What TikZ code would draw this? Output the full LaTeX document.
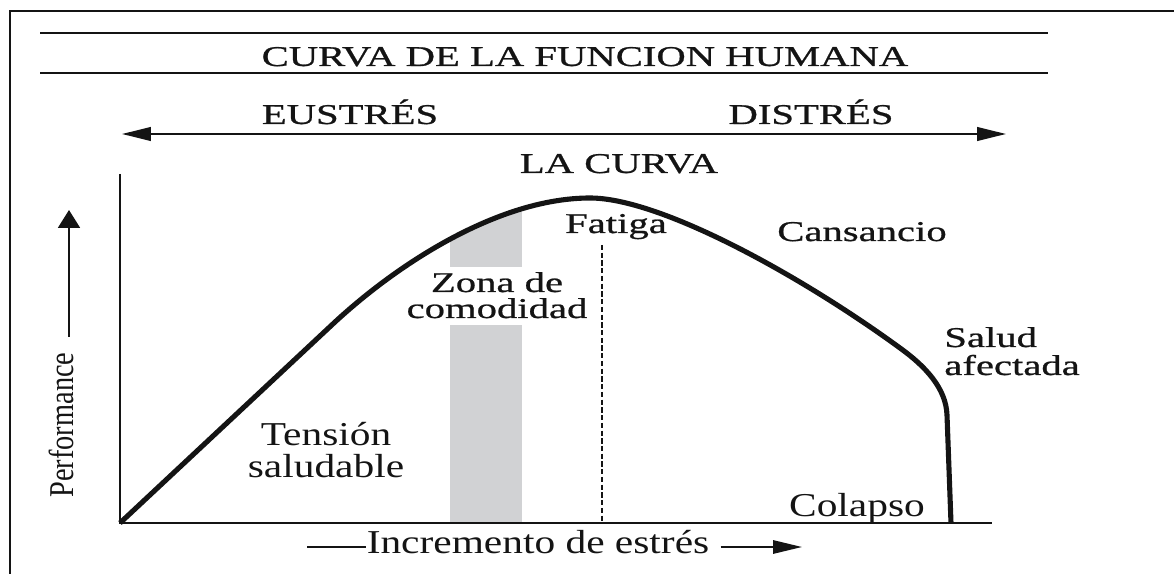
\documentclass[tikz,border=0pt]{standalone}
\usepackage{fontspec}
\setmainfont{Liberation Serif}
\newfontfamily\widefont[FakeStretch=1.42, FakeBold=0.8]{Liberation Serif}
\newfontfamily\tallfont[FakeStretch=1.24]{Liberation Serif}
\newfontfamily\perffont[FakeStretch=0.815]{Liberation Serif}
\definecolor{zonegray}{RGB}{209, 210, 212}
\definecolor{inkblack}{RGB}{20, 20, 20}
\usetikzlibrary{arrows.meta, positioning, calc}

\begin{document}
\begin{tikzpicture}[x=0.02cm, y=-0.02cm,
    widelabel/.style={font=\widefont\fontsize{16.3pt}{18pt}\selectfont, anchor=base, inner sep=0pt, text=inkblack},
    talllabel/.style={font=\tallfont\fontsize{19pt}{21pt}\selectfont, anchor=base, inner sep=0pt, text=inkblack},
    bigtip/.style={-{Triangle[length=16.5pt, width=7.6pt]}},
    rule/.style={draw=inkblack, line width=0.8pt}]
  \useasboundingbox (0,0) rectangle (1174,574);
  \clip (0,0) rectangle (1174,574);

  % outer frame (only top and left edges show)
  \draw[inkblack, line width=1.7pt] (10,620) |- (1220,11);

  % title between two rules
  \draw[rule] (40,33) -- (1048,33);
  \draw[rule] (40,73) -- (1048,73);
  \node[widelabel] (title) at (585,66) {CURVA DE LA FUNCION HUMANA};

  % eustres / distres double arrow
  \node[widelabel] (eustres) at (350,124) {EUSTRÉS};
  \node[widelabel] (distres) at (811,124) {DISTRÉS};
  \coordinate (arrL) at (122,134);
  \coordinate (arrR) at (1006,134);
  \draw[inkblack, line width=1.1pt, {Triangle[length=16.5pt, width=7.8pt]}-{Triangle[length=16.5pt, width=7.8pt]}] (arrL) -- (arrR);
  \node[widelabel] (lacurva) at (619,173) {LA CURVA};

  % comfort zone, kept under the curve
  \begin{scope}
    \clip (120,523) -- (335,322) .. controls (400,262) and (500,198) .. (590,198)
      .. controls (660,198) and (800,275) .. (900,348)
      .. controls (925,366) and (946,388) .. (947,415) -- (951,523) -- cycle;
    \fill[zonegray] (450,150) rectangle (522,267);
    \fill[zonegray] (450,325) rectangle (522,523);
  \end{scope}

  % axes
  \coordinate (origin) at (120,523);
  \coordinate (ytop) at (120,174);
  \coordinate (xend) at (992,523);
  \draw[inkblack, line width=1pt] (ytop) -- (origin) -- (xend);

  % fatigue mark
  \coordinate (fatigaTop) at (602,245);
  \coordinate (fatigaFoot) at (602,523);
  \draw[inkblack, line width=0.8pt, dash pattern=on 3pt off 1.4pt] (fatigaTop) -- (fatigaFoot);

  % the curve
  \draw[inkblack, line width=2.9pt, line join=round] (origin) -- (335,322)
    .. controls (400,262) and (500,198) .. (590,198)
    .. controls (660,198) and (800,275) .. (900,348)
    .. controls (925,366) and (946,388) .. (947,415) -- (951,523);

  % labels on the chart
  \node[widelabel] (fatiga) at (616,233) {Fatiga};
  \node[widelabel] (cansancio) at (862,241) {Cansancio};
  \node[widelabel] (zonaA) at (497,292) {Zona de};
  \node[widelabel] (zonaB) at (497,318) {comodidad};
  \node[widelabel, anchor=base west] (saludA) at (944,347) {Salud};
  \node[widelabel, anchor=base west] (saludB) at (944,375) {afectada};
  \node[talllabel] (tensionA) at (326,445) {Tensión};
  \node[talllabel] (tensionB) at (326,478) {saludable};
  \node[talllabel] (colapso) at (857,516) {Colapso};

  % y label
  \node[font=\perffont\fontsize{19.8pt}{21pt}\selectfont, text=inkblack, rotate=90, anchor=base, inner sep=0pt] (perf) at (73,425) {Performance};
  \coordinate (perfTail) at (69,337);
  \coordinate (perfTip) at (69,210);
  \draw[inkblack, line width=1.1pt, -{Triangle[length=10.2pt, width=12.5pt]}] (perfTail) -- (perfTip);

  % x label
  \node[talllabel] (stress) at (538,553) {Incremento de estrés};
  \coordinate (stressL) at (307,547);
  \coordinate (stressR) at (802,547);
  \draw[inkblack, line width=1.1pt] (stressL) -- (stress.west |- stressL);
  \draw[inkblack, line width=1.1pt, bigtip] ($(stress.east |- stressR)+(11,0)$) -- (stressR);
\end{tikzpicture}
\end{document}
